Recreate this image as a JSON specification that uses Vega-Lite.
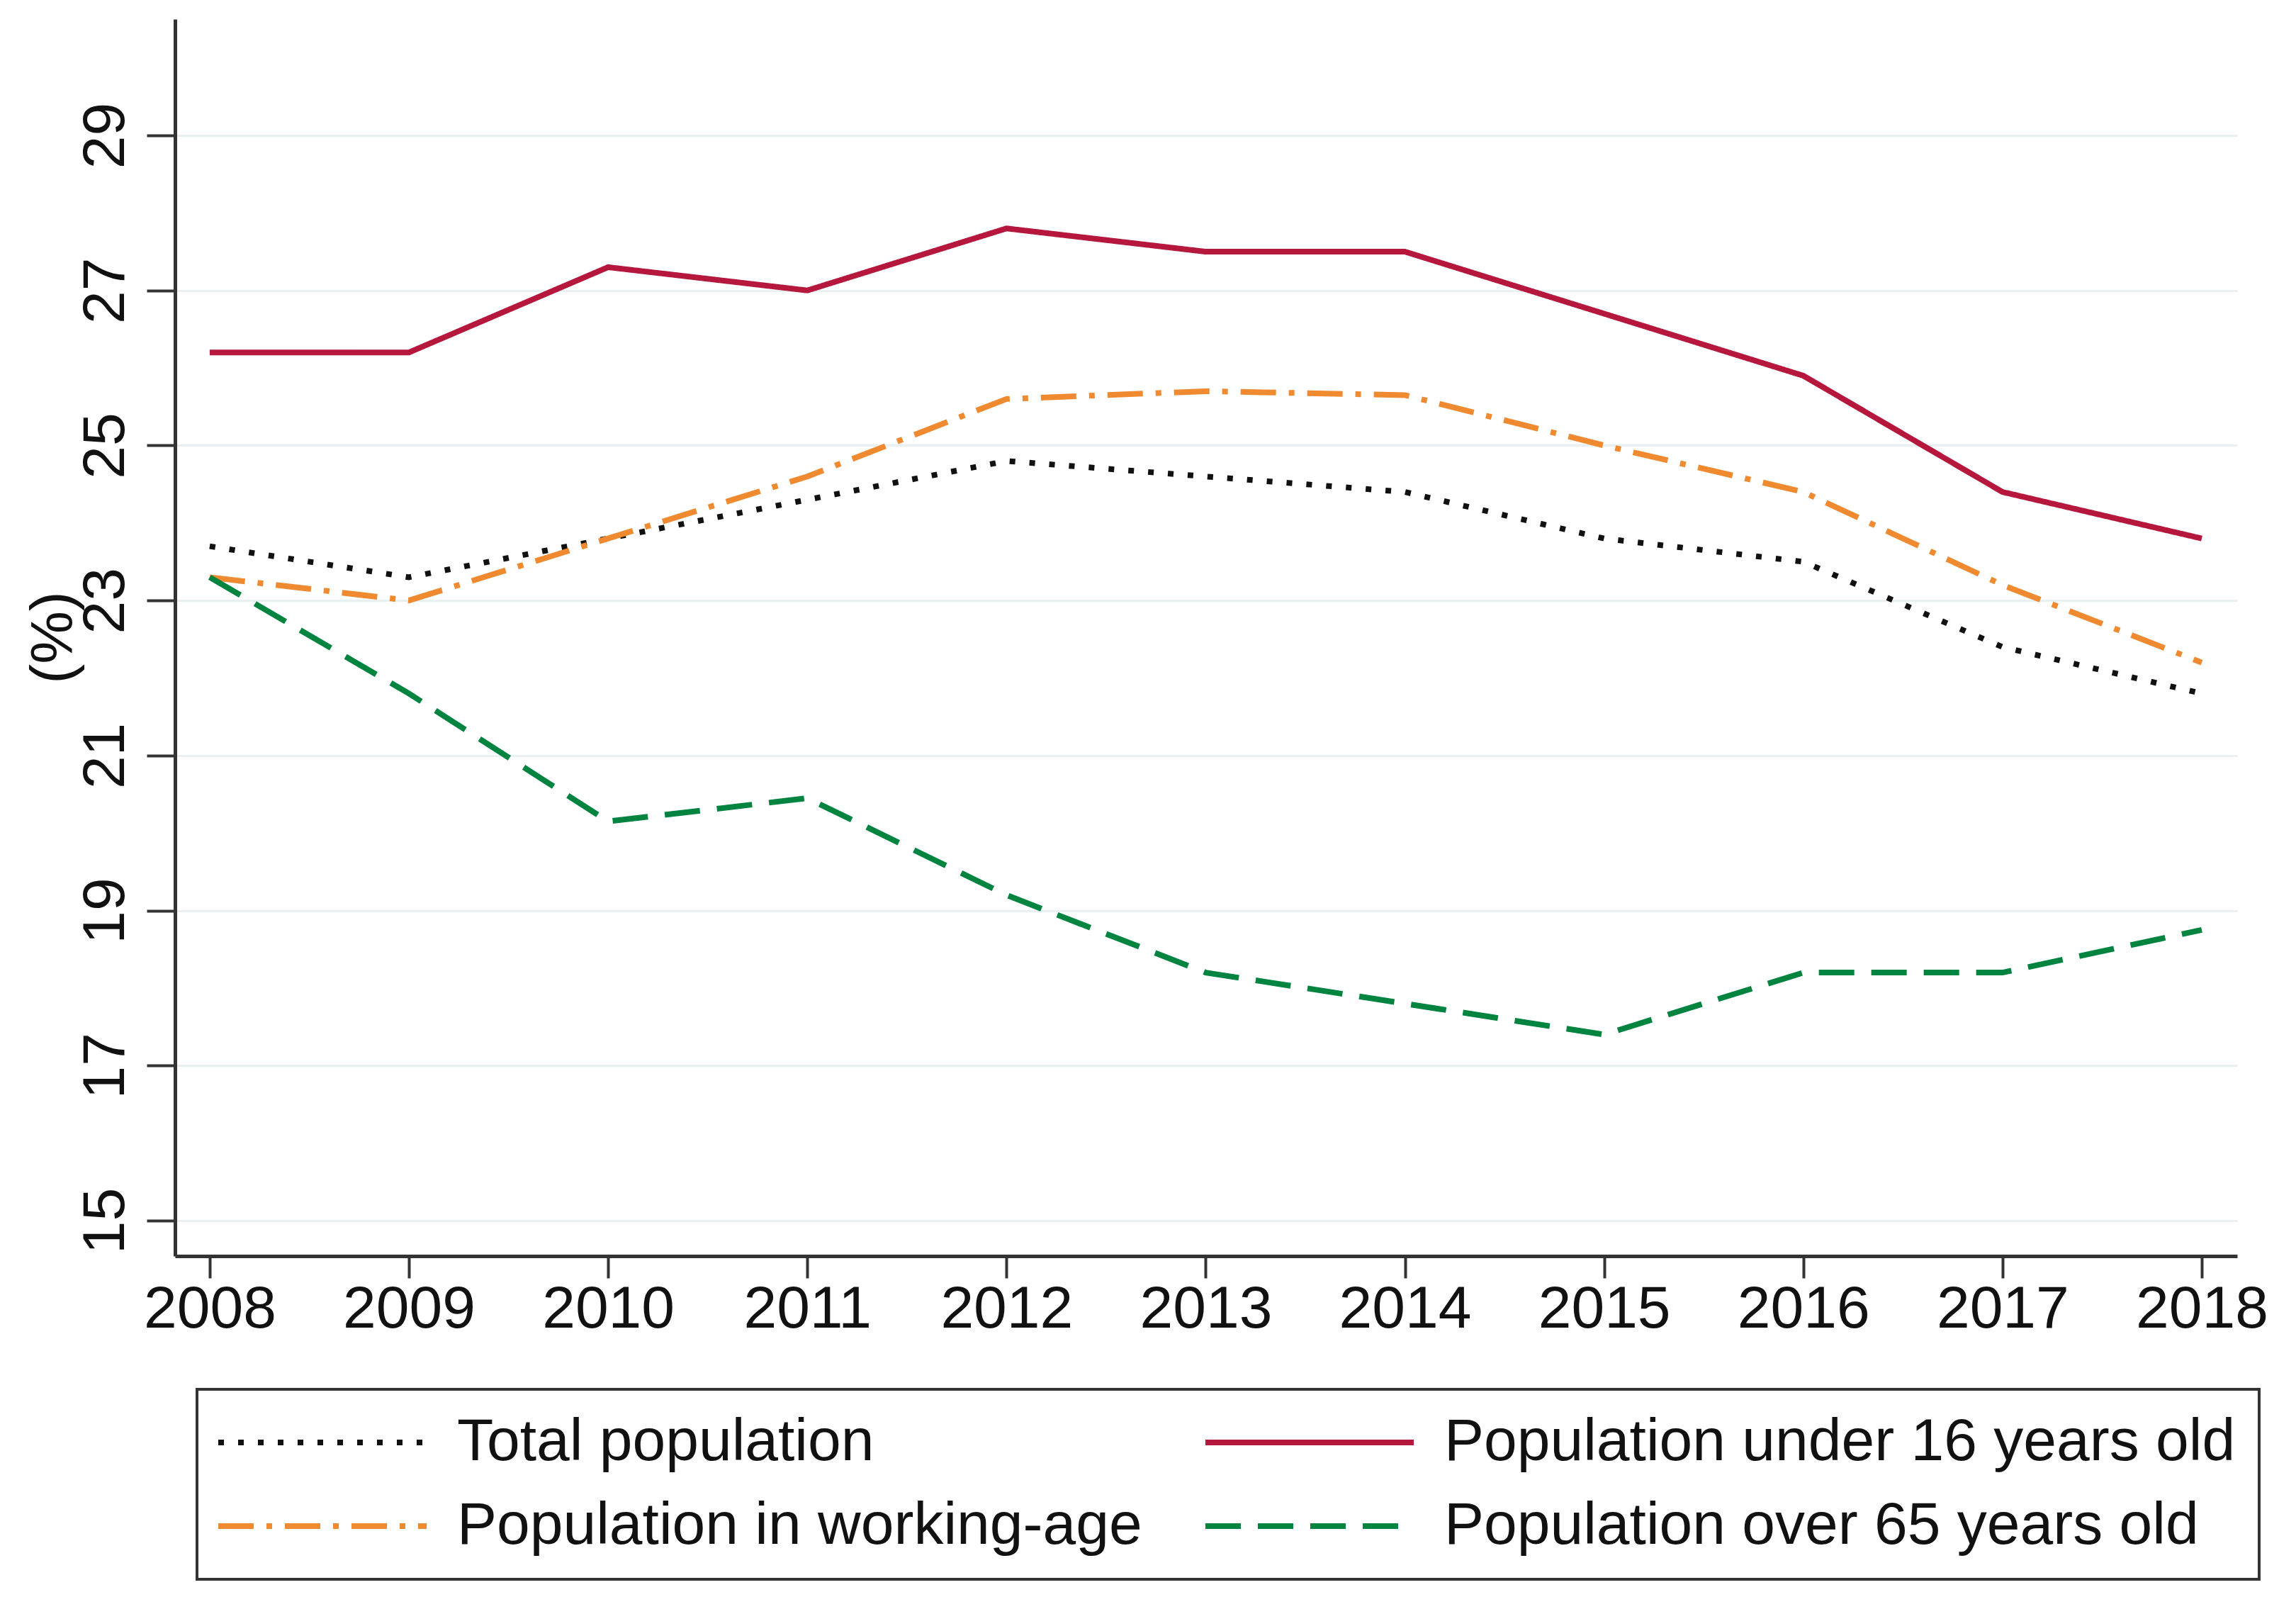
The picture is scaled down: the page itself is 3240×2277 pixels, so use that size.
{
  "$schema": "https://vega.github.io/schema/vega-lite/v6.json",
  "autosize": {"type": "none"},
  "padding": {"left": 247, "top": 27, "right": 83, "bottom": 505},
  "width": 2910,
  "height": 1745,
  "background": "white",
  "config": {
    "view": {"stroke": null},
    "font": "Liberation Sans",
    "legend": {"strokeWidth": 4, "strokeColor": "#333333"}
  },
  "data": {
    "values": [
      {"year": 2008, "series": "Total population", "value": 23.7},
      {"year": 2009, "series": "Total population", "value": 23.3},
      {"year": 2010, "series": "Total population", "value": 23.8},
      {"year": 2011, "series": "Total population", "value": 24.3},
      {"year": 2012, "series": "Total population", "value": 24.8},
      {"year": 2013, "series": "Total population", "value": 24.6},
      {"year": 2014, "series": "Total population", "value": 24.4},
      {"year": 2015, "series": "Total population", "value": 23.8},
      {"year": 2016, "series": "Total population", "value": 23.5},
      {"year": 2017, "series": "Total population", "value": 22.4},
      {"year": 2018, "series": "Total population", "value": 21.8},
      {"year": 2008, "series": "Population under 16 years old", "value": 26.2},
      {"year": 2009, "series": "Population under 16 years old", "value": 26.2},
      {"year": 2010, "series": "Population under 16 years old", "value": 27.3},
      {"year": 2011, "series": "Population under 16 years old", "value": 27.0},
      {"year": 2012, "series": "Population under 16 years old", "value": 27.8},
      {"year": 2013, "series": "Population under 16 years old", "value": 27.5},
      {"year": 2014, "series": "Population under 16 years old", "value": 27.5},
      {"year": 2015, "series": "Population under 16 years old", "value": 26.7},
      {"year": 2016, "series": "Population under 16 years old", "value": 25.9},
      {"year": 2017, "series": "Population under 16 years old", "value": 24.4},
      {"year": 2018, "series": "Population under 16 years old", "value": 23.8},
      {"year": 2008, "series": "Population in working-age", "value": 23.3},
      {"year": 2009, "series": "Population in working-age", "value": 23.0},
      {"year": 2010, "series": "Population in working-age", "value": 23.8},
      {"year": 2011, "series": "Population in working-age", "value": 24.6},
      {"year": 2012, "series": "Population in working-age", "value": 25.6},
      {"year": 2013, "series": "Population in working-age", "value": 25.7},
      {"year": 2014, "series": "Population in working-age", "value": 25.65},
      {"year": 2015, "series": "Population in working-age", "value": 25.0},
      {"year": 2016, "series": "Population in working-age", "value": 24.4},
      {"year": 2017, "series": "Population in working-age", "value": 23.2},
      {"year": 2018, "series": "Population in working-age", "value": 22.2},
      {"year": 2008, "series": "Population over 65 years old", "value": 23.3},
      {"year": 2009, "series": "Population over 65 years old", "value": 21.8},
      {"year": 2010, "series": "Population over 65 years old", "value": 20.15},
      {"year": 2011, "series": "Population over 65 years old", "value": 20.45},
      {"year": 2012, "series": "Population over 65 years old", "value": 19.2},
      {"year": 2013, "series": "Population over 65 years old", "value": 18.2},
      {"year": 2014, "series": "Population over 65 years old", "value": 17.8},
      {"year": 2015, "series": "Population over 65 years old", "value": 17.4},
      {"year": 2016, "series": "Population over 65 years old", "value": 18.2},
      {"year": 2017, "series": "Population over 65 years old", "value": 18.2},
      {"year": 2018, "series": "Population over 65 years old", "value": 18.75}
    ]
  },
  "mark": {"type": "line", "strokeWidth": 8, "strokeCap": "butt"},
  "encoding": {
    "x": {
      "field": "year",
      "type": "quantitative",
      "scale": {"domain": [2007.826, 2018.178], "nice": false, "zero": false},
      "axis": {
        "title": null,
        "values": [2008, 2009, 2010, 2011, 2012, 2013, 2014, 2015, 2016, 2017, 2018],
        "format": "d",
        "grid": false,
        "domainColor": "#333333",
        "domainWidth": 5,
        "tickColor": "#333333",
        "tickWidth": 4,
        "tickSize": 31,
        "labelFontSize": 84,
        "labelColor": "#111111",
        "labelPadding": 3,
        "labelLimit": 1000,
        "labelFlush": false,
        "labelOverlap": false
      }
    },
    "y": {
      "field": "value",
      "type": "quantitative",
      "scale": {"domain": [14.543, 30.5], "nice": false, "zero": false},
      "axis": {
        "title": "(%)",
        "titleFontSize": 84,
        "titleFontWeight": "normal",
        "titleColor": "#111111",
        "titleX": -128,
        "titleY": 872,
        "titleAngle": -90,
        "titleAlign": "center",
        "titleBaseline": "bottom",
        "values": [15, 17, 19, 21, 23, 25, 27, 29],
        "grid": true,
        "gridColor": "#e8f0f1",
        "gridWidth": 3,
        "domainColor": "#333333",
        "domainWidth": 5,
        "tickColor": "#333333",
        "tickWidth": 4,
        "tickSize": 40,
        "labelFontSize": 84,
        "labelColor": "#111111",
        "labelAngle": -90,
        "labelAlign": "center",
        "labelBaseline": "bottom",
        "labelPadding": 15,
        "labelFlush": false,
        "labelOverlap": false
      }
    },
    "color": {
      "field": "series",
      "type": "nominal",
      "scale": {
        "domain": ["Total population", "Population under 16 years old", "Population in working-age", "Population over 65 years old"],
        "range": ["#111111", "#b5173d", "#f08a30", "#00843f"]
      },
      "legend": {
        "title": null,
        "orient": "none",
        "legendX": 31,
        "legendY": 1933,
        "columns": 2,
        "direction": "horizontal",
        "columnPadding": 73,
        "rowPadding": 34,
        "padding": 33,
        "strokeColor": "#333333",
        "fillColor": "white",
        "symbolType": "M-1.5,0H8.3",
        "symbolSize": 3600,
        "symbolStrokeWidth": 8,
        "symbolFillColor": "transparent",
        "labelFontSize": 84,
        "labelColor": "#111111",
        "labelOffset": 250,
        "labelLimit": 2000
      }
    },
    "strokeDash": {
      "field": "series",
      "type": "nominal",
      "scale": {
        "domain": ["Total population", "Population under 16 years old", "Population in working-age", "Population over 65 years old"],
        "range": [[8, 20], [1, 0], [50, 18, 8, 18], [50, 24]]
      },
      "legend": null
    }
  }
}
